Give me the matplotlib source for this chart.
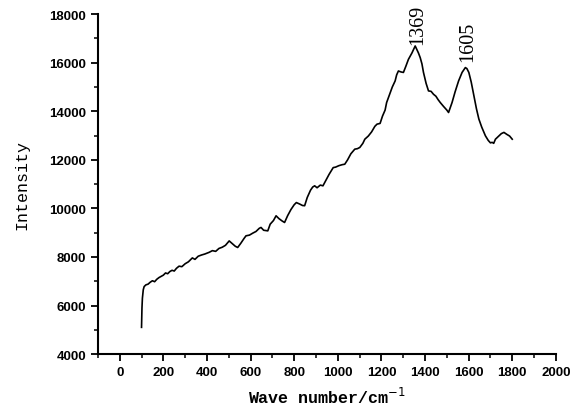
import matplotlib
matplotlib.use("Agg")
import matplotlib.pyplot as plt
from matplotlib.ticker import MultipleLocator


# -----------------------------
# Spectrum values
# -----------------------------
wavenumber = [
    100, 102, 104, 108, 112, 120, 130, 140, 150, 160, 170, 180, 190, 200,
    210, 220, 230, 240, 250, 260, 272, 285, 300, 315, 333, 345, 360, 375,
    390, 410, 425, 440, 455, 470, 485, 502, 515, 530, 541, 555, 570, 579,
    595, 610, 625, 640, 648, 660, 679, 690, 705, 717, 730, 745, 756, 770,
    785, 800, 810, 825, 838, 848, 860, 875, 885, 894, 905, 920, 932, 945,
    960, 979, 990, 1005, 1020, 1032, 1045, 1060, 1078, 1090, 1101, 1115,
    1124, 1140, 1155, 1170, 1180, 1194, 1205, 1217, 1224, 1240, 1250, 1263,
    1270, 1278, 1290, 1301, 1312, 1324, 1340, 1355, 1362, 1370, 1378, 1386,
    1393, 1405, 1416, 1428, 1439, 1450, 1460, 1470, 1485, 1500, 1508, 1516,
    1524, 1538, 1554, 1570, 1585, 1592, 1601, 1612, 1624, 1636, 1647, 1660,
    1677, 1690, 1700, 1708, 1715, 1723, 1735, 1750, 1762, 1775, 1788, 1800,
]

intensity = [
    5100, 5900, 6300, 6650, 6780, 6850, 6880, 6960, 7020, 6980, 7080, 7150,
    7200, 7250, 7340, 7310, 7400, 7450, 7420, 7530, 7620, 7600, 7720, 7800,
    7960, 7900, 8030, 8080, 8120, 8190, 8260, 8230, 8350, 8400, 8480, 8660,
    8560, 8440, 8390, 8560, 8760, 8870, 8900, 8980, 9050, 9180, 9215, 9100,
    9075, 9350, 9500, 9695, 9580, 9480, 9420, 9700, 9950, 10150, 10240,
    10180, 10120, 10110, 10450, 10750, 10880, 10930, 10850, 10960, 10930,
    11150, 11400, 11680, 11700, 11760, 11800, 11820, 12000, 12250, 12440,
    12460, 12510, 12680, 12850, 12980, 13150, 13380, 13470, 13500, 13800,
    14050, 14360, 14750, 15000, 15250, 15500, 15660, 15620, 15600, 15850,
    16140, 16400, 16690, 16550, 16400, 16210, 15950, 15600, 15150, 14840,
    14820, 14700, 14620, 14480, 14360, 14200, 14050, 13950, 14150, 14360,
    14800, 15250, 15600, 15800, 15760, 15600, 15200, 14640, 14100, 13680,
    13350, 12990, 12800, 12700, 12720, 12680, 12850, 12950, 13080, 13130,
    13050, 12980, 12850,
]

peak_labels = ["1369", "1605"]
peak_x = [1365, 1594]
peak_y = [16760, 16060]


def main():
    fig = plt.figure(figsize=(5.76, 4.10), dpi=100)
    ax = fig.add_axes([0.170, 0.134, 0.795, 0.829])

    ax.plot(wavenumber, intensity, color="black", linewidth=1.2)

    ax.set_xlim(-100, 2000)
    ax.set_ylim(4000, 18000)

    ax.xaxis.set_major_locator(MultipleLocator(200))
    ax.xaxis.set_minor_locator(MultipleLocator(100))
    ax.yaxis.set_major_locator(MultipleLocator(2000))
    ax.yaxis.set_minor_locator(MultipleLocator(1000))

    for side in ["top", "right"]:
        ax.spines[side].set_visible(False)
    for side in ["left", "bottom"]:
        ax.spines[side].set_linewidth(1.5)

    ax.tick_params(which="major", direction="out", length=5, width=1.3)
    ax.tick_params(which="minor", direction="out", length=3, width=1.1)

    for lbl in ax.get_xticklabels() + ax.get_yticklabels():
        lbl.set_fontfamily("Liberation Sans")
        lbl.set_fontweight("bold")
        lbl.set_fontsize(9.5)

    ax.set_xlabel("Wave number/cm$^{-1}$", family="Liberation Mono",
                  fontweight="bold", fontsize=12, labelpad=6)
    ax.set_ylabel("Intensity", family="Liberation Mono", fontsize=12,
                  labelpad=14)

    for text, x, y in zip(peak_labels, peak_x, peak_y):
        ax.text(x, y, text, rotation=90, ha="center", va="bottom",
                family="Liberation Serif", fontsize=14.5)

    fig.savefig("out.png", dpi=100)
    plt.close(fig)


if __name__ == "__main__":
    main()
